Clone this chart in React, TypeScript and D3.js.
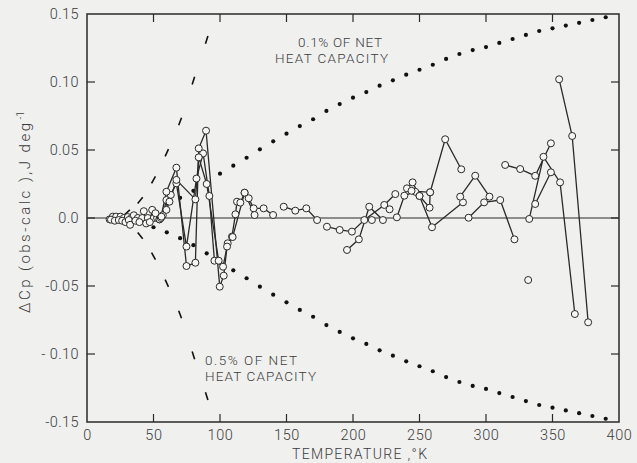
import React, { useEffect, useRef } from 'react';
import * as d3 from 'd3';

const xTicks = [0, 50, 100, 150, 200, 250, 300, 350, 400];
const yTicks = [0.15, 0.1, 0.05, 0, -0.05, -0.1, -0.15];
const yTickLabels = ['0.15', '0.10', '0.05', '0.0', '-0.05', '- 0.10', '-0.15'];

// 0.1% of net heat capacity (dotted, plotted as + and -)
const dotT = [50, 60, 70, 80, 90, 100, 110, 120, 130, 140, 150, 160, 170, 180, 190, 200, 210, 220, 230, 240, 250, 260, 270, 280, 290, 300, 310, 320, 330, 340, 350, 360, 370, 380, 390];
const dotV = [0.0068, 0.0105, 0.0148, 0.02, 0.026, 0.0326, 0.0385, 0.0443, 0.0505, 0.0564, 0.062, 0.0676, 0.0726, 0.0787, 0.0838, 0.0885, 0.0926, 0.0973, 0.1012, 0.1054, 0.109, 0.1127, 0.117, 0.1206, 0.1235, 0.1257, 0.1287, 0.1316, 0.1346, 0.1375, 0.1395, 0.1415, 0.1435, 0.1456, 0.1476];

// 0.5% of net heat capacity (dashed)
const dashT = [30, 40, 50, 60, 70, 80, 90];
const dashV = [0.004, 0.013, 0.028, 0.048, 0.071, 0.101, 0.131];

// measured runs, [temperature, deviation]
const runA = [[17, -0.001], [19.4, 0.001], [21.9, 0.001], [25.2, 0.001], [27.7, 0.0], [30.7, 0.0007], [33.4, 0.0], [35.2, 0.002], [38.2, 0.0], [41.5, 0.0], [45.7, 0.0], [50.2, 0.0], [52.7, 0.0], [55.5, 0.0]];
const runB = [[18, -0.0012], [20.9, -0.002], [23.9, -0.0015], [26.4, -0.002], [28.9, -0.003], [31.4, -0.0015], [32.4, -0.005], [36.4, -0.002], [39.4, -0.003], [42.7, 0.005], [44.5, -0.004], [47.2, -0.003], [49, 0.006], [51.5, 0.0035], [54.5, -0.001]];
const runC = [[54.5, -0.001], [57, 0.002], [59.7, 0.0132], [63, 0.017], [67.2, 0.0255], [74.8, -0.021], [82.3, 0.029], [87.3, 0.0475], [92, 0.0162], [95.8, -0.0314], [102.3, -0.0358], [105.8, -0.0186], [109, -0.0137], [111.6, 0.0027], [112.8, 0.012], [115.3, 0.0113], [118.5, 0.0186], [121.6, 0.0145], [125.3, 0.0071], [132.8, 0.0071], [139.9, 0.0022]];
const runD = [[55.5, 0.0], [59.7, 0.0193], [67.2, 0.037], [74.8, -0.0353], [81.5, -0.0329], [84, 0.0512], [89.5, 0.0642], [99.8, -0.0505], [102.8, -0.0424], [105.3, -0.021], [109.5, -0.014], [118.5, 0.0186], [126, 0.0022]];
const runE = [[56, 0.001], [59.7, 0.006], [62, 0.012], [67.2, 0.028], [81.5, 0.0137], [84, 0.0446], [90, 0.025], [99, -0.0314]];
const runF = [[147.9, 0.0083], [156.6, 0.0054], [164.9, 0.0071], [173, -0.0015]];
const runG = [[180.4, -0.0064], [190, -0.0088], [199.2, -0.01], [208.5, -0.0015], [223.5, 0.0096], [231.8, 0.0176]];
const runH = [[195.5, -0.0235], [204.4, -0.0157], [212.2, 0.0083], [222.5, -0.0015]];
const runI = [[233, 0.0005], [238.6, 0.0164], [246.8, 0.0193], [250, 0.0162], [257.6, 0.0076], [258, 0.0189]];
const runJ = [[240.6, 0.0218], [244.8, 0.0262], [250, 0.0162], [259.4, -0.0068], [282.7, 0.0115]];
const runK = [[244, 0.02], [258, 0.0189], [269.3, 0.0579], [281.4, 0.0358]];
const runL = [[280.6, 0.0157], [291.9, 0.0311], [302.6, 0.0157]];
const runM = [[286.9, 0.0002], [298.6, 0.0115], [310.7, 0.0132], [321.4, -0.0157]];
const runN = [[314.4, 0.039], [325.7, 0.036], [337, 0.031], [348.8, 0.0549]];
const runO = [[332.5, -0.0007], [343.2, 0.045], [355.7, 0.0262], [366.8, -0.0706]];
const runP = [[337, 0.0103], [348.8, 0.0336]];
const runQ = [[355, 0.102], [364.8, 0.0603], [376.8, -0.0767]];
const loose = [[214.2, -0.0015], [227.5, 0.0064], [331.7, -0.0456]];

const runs = [runA, runB, runC, runD, runE, runF, runG, runH, runI, runJ, runK, runL, runM, runN, runO, runP, runQ];

const W = 637;
const H = 463;
const FONT = 'Roboto, "DejaVu Sans", sans-serif';
const INK = '#2a2a2a';
const TXT = '#3c3c3c';

const App = () => {
  const svgRef = useRef(null);

  useEffect(() => {
    const svg = d3.select(svgRef.current);
    svg.selectAll('*').remove();

    const x = d3.scaleLinear().domain([0, 400]).range([87, 619]);
    const y = d3.scaleLinear().domain([-0.15, 0.15]).range([422, 14]);
    const [x0, x1] = x.range();
    const [y0, y1] = y.range();

    svg.append('rect').attr('width', W).attr('height', H).attr('fill', '#f0f0ef');

    // zero line
    svg.append('line')
      .attr('x1', x0).attr('x2', x1)
      .attr('y1', y(0)).attr('y2', y(0))
      .attr('stroke', INK).attr('stroke-width', 1);

    // frame
    svg.append('rect')
      .attr('x', x0).attr('y', y1)
      .attr('width', x1 - x0).attr('height', y0 - y1)
      .attr('fill', 'none').attr('stroke', INK).attr('stroke-width', 1.5);

    // inward ticks on all four sides
    const tickLen = 8;
    const g = svg.append('g').attr('stroke', INK).attr('stroke-width', 1.2);
    xTicks.slice(1, -1).forEach((t) => {
      g.append('line').attr('x1', x(t)).attr('x2', x(t)).attr('y1', y0).attr('y2', y0 - tickLen);
      g.append('line').attr('x1', x(t)).attr('x2', x(t)).attr('y1', y1).attr('y2', y1 + tickLen);
    });
    yTicks.slice(1, -1).forEach((t) => {
      g.append('line').attr('x1', x0).attr('x2', x0 + tickLen).attr('y1', y(t)).attr('y2', y(t));
      g.append('line').attr('x1', x1).attr('x2', x1 - tickLen).attr('y1', y(t)).attr('y2', y(t));
    });

    const txt = (sel, size, spacing) =>
      sel
        .style('font-family', FONT)
        .style('font-size', size + 'px')
        .style('font-weight', 300)
        .style('letter-spacing', spacing + 'px')
        .style('fill', TXT);

    // tick labels
    txt(
      svg.append('g')
        .selectAll('text')
        .data(xTicks)
        .enter()
        .append('text')
        .attr('x', (d) => x(d) + 0.5)
        .attr('y', 440)
        .attr('text-anchor', 'middle')
        .text((d) => d),
      14.5, 0.6
    );

    txt(
      svg.append('g')
        .selectAll('text')
        .data(yTicks)
        .enter()
        .append('text')
        .attr('x', 79)
        .attr('y', (d) => y(d) + 5)
        .attr('text-anchor', 'end')
        .text((d, i) => yTickLabels[i]),
      14.5, 0.4
    );

    // axis titles
    txt(
      svg.append('text')
        .attr('x', 292)
        .attr('y', 459)
        .attr('textLength', 135)
        .attr('lengthAdjust', 'spacing')
        .text('TEMPERATURE ,°K'),
      14, 0
    );

    const yTitle = txt(
      svg.append('text')
        .attr('transform', 'translate(30, 313) rotate(-90)')
        .attr('text-anchor', 'start'),
      15, 0
    );
    yTitle.append('tspan').attr('textLength', 190).attr('lengthAdjust', 'spacing').text('ΔCp (obs-calc ),J deg');
    yTitle.append('tspan').attr('dx', 1).attr('dy', -6).style('font-size', '10px').text('-1');

    // curve annotations
    const note = (s, tx, ty, len) => {
      txt(svg.append('text').attr('x', tx).attr('y', ty), 13.5, 0)
        .attr('textLength', len)
        .attr('lengthAdjust', 'spacing')
        .text(s);
    };
    note('0.1% OF NET', 298, 47, 84);
    note('HEAT CAPACITY', 275, 63, 113);
    note('0.5% OF NET', 205, 365, 92);
    note('HEAT CAPACITY', 205, 381, 111);

    // 0.1% dotted envelopes
    const dots = dotT.flatMap((t, i) => [[t, dotV[i]], [t, -dotV[i]]]);
    svg.append('g')
      .selectAll('circle')
      .data(dots)
      .enter()
      .append('circle')
      .attr('cx', (d) => x(d[0]))
      .attr('cy', (d) => y(d[1]))
      .attr('r', 2.1)
      .attr('fill', '#111');

    // 0.5% dashed envelopes: short strokes along the curve
    const dashG = svg.append('g').attr('stroke', '#111').attr('stroke-width', 1.6);
    [1, -1].forEach((sgn) => {
      const pts = dashT.map((t, i) => [x(t), y(sgn * dashV[i])]);
      pts.forEach((p, i) => {
        const a = pts[Math.max(0, i - 1)];
        const b = pts[Math.min(pts.length - 1, i + 1)];
        const dx = b[0] - a[0];
        const dy = b[1] - a[1];
        const len = Math.hypot(dx, dy) || 1;
        const h = 4;
        dashG.append('line')
          .attr('x1', p[0] - (dx / len) * h).attr('y1', p[1] - (dy / len) * h)
          .attr('x2', p[0] + (dx / len) * h).attr('y2', p[1] + (dy / len) * h);
      });
    });

    // measured runs
    const line = d3.line().x((d) => x(d[0])).y((d) => y(d[1]));
    svg.append('g')
      .selectAll('path')
      .data(runs)
      .enter()
      .append('path')
      .attr('d', (d) => line(d))
      .attr('fill', 'none')
      .attr('stroke', INK)
      .attr('stroke-width', 1.3);

    const allPts = runs.flat().concat(loose);
    svg.append('g')
      .selectAll('circle')
      .data(allPts)
      .enter()
      .append('circle')
      .attr('cx', (d) => x(d[0]))
      .attr('cy', (d) => y(d[1]))
      .attr('r', 3.5)
      .attr('fill', '#f6f6f5')
      .attr('stroke', INK)
      .attr('stroke-width', 1);
  }, []);

  return (
    <div style={{ position: 'absolute', left: 0, top: 0, width: W, height: H, background: '#f0f0ef' }}>
      <svg ref={svgRef} width={W} height={H} style={{ display: 'block' }}></svg>
    </div>
  );
};

export default App;
